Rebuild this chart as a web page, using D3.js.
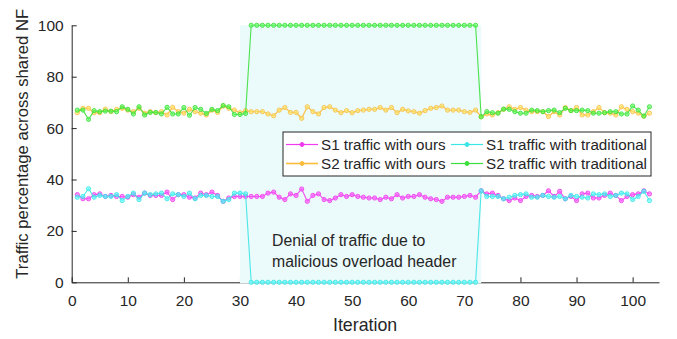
<!DOCTYPE html>
<html>
<head>
<meta charset="utf-8">
<script src="https://cdn.jsdelivr.net/npm/d3@7"></script>
<style>
  body { margin: 0; background: #fff; }
  text { font-family: "Liberation Sans", Arial, sans-serif; fill: #262626; }
</style>
</head>
<body>
<svg id="chart" width="677" height="339"></svg>
<script>
// data (iterations 1..103)
const iterations = d3.range(1, 104);

const s1Ours = [
	34.1, 32.5, 32.5, 34.1, 34.4, 33.4, 33.8, 33.4, 33.4, 33.1, 34.1, 33.1, 34.7, 33.8, 33.8, 33.8, 35.1, 32.2, 34.1, 34.1,
	33.1, 32.8, 34.7, 34.1, 35.1, 33.8, 31.5, 32.8, 33.4, 33.4, 33.4,
	33.4, 33.4, 33.4, 34.7, 35.1, 33.1, 32.2, 34.4, 33.8, 36.3, 31.5, 33.8, 34.4, 32.2, 31.8, 32.8, 34.1, 33.4, 34.1, 33.4,
	33.1, 32.8, 32.8, 32.2, 33.1, 32.5, 34.1, 32.8, 33.4, 33.4, 34.1, 33.1, 32.5, 32.2, 31.5, 33.1, 33.1, 33.1, 33.4, 33.8, 33.1,
	35.6, 34.4, 34.7, 33.8, 32.5, 31.8, 32.8, 31.8, 33.4, 33.8, 33.4, 33.8, 35.6, 33.4, 35.4, 32.5, 33.4, 31.8, 34.4, 34.7,
	32.8, 32.8, 33.8, 34.7, 33.8, 31.8, 33.4, 34.1, 34.4, 35.6, 34.4
];

const s2Ours = [
	66.0, 67.7, 67.7, 66.0, 66.0, 67.4, 66.4, 67.3, 67.7, 67.0, 66.4, 67.7, 65.8, 66.4, 66.0, 66.4, 65.1, 68.1, 66.4, 65.8,
	67.3, 66.4, 65.8, 65.1, 67.0, 66.1, 68.6, 67.7, 67.0, 66.0, 66.8,
	66.4, 66.4, 66.4, 65.5, 64.8, 67.0, 68.0, 66.1, 66.1, 63.8, 68.3, 66.4, 65.5, 68.0, 68.3, 67.0, 66.0, 66.8, 66.0, 66.8,
	67.0, 67.3, 67.3, 68.0, 67.0, 68.0, 66.0, 67.3, 66.7, 66.4, 65.8, 66.8, 67.7, 68.0, 68.6, 67.0, 67.0, 67.0, 66.4, 66.1, 67.0,
	64.4, 65.5, 65.1, 66.0, 67.3, 68.3, 67.3, 68.0, 67.0, 66.4, 66.4, 66.4, 64.5, 66.4, 65.1, 68.0, 66.8, 68.0, 65.1, 65.1,
	66.4, 68.0, 66.0, 65.8, 65.1, 68.3, 67.3, 66.4, 65.8, 64.6, 65.8
];

const s1Trad = [
	33.1, 33.4, 36.4, 33.1, 33.8, 33.4, 33.4, 34.1, 31.8, 33.4, 34.7, 32.2, 34.7, 34.1, 34.4, 34.7, 32.5, 34.4, 34.1, 33.4,
	34.7, 32.5, 33.8, 33.8, 33.4, 33.4, 31.5, 32.2, 34.7, 34.7, 34.4,
	0, 0, 0, 0, 0, 0, 0, 0, 0, 0, 0, 0, 0, 0, 0, 0, 0, 0, 0, 0,
	0, 0, 0, 0, 0, 0, 0, 0, 0, 0, 0, 0, 0, 0, 0, 0, 0, 0, 0, 0, 0,
	35.6, 33.4, 33.4, 33.4, 32.5, 33.1, 33.8, 34.1, 34.4, 33.1, 33.1, 33.8, 33.4, 33.1, 33.4, 32.5, 33.8, 33.4, 33.1, 32.8,
	34.4, 34.1, 34.4, 33.4, 33.8, 34.7, 34.4, 32.2, 33.4, 35.4, 31.8
];

const s2Trad = [
	67.0, 67.0, 63.4, 66.8, 66.4, 66.6, 66.6, 66.4, 68.3, 67.3, 65.5, 68.3, 65.1, 66.1, 66.1, 65.5, 68.1, 65.5, 65.5, 68.0,
	65.0, 68.0, 67.3, 65.7, 67.3, 66.8, 68.8, 68.3, 65.3, 65.3, 65.7,
	100, 100, 100, 100, 100, 100, 100, 100, 100, 100, 100, 100, 100, 100, 100, 100, 100, 100, 100, 100,
	100, 100, 100, 100, 100, 100, 100, 100, 100, 100, 100, 100, 100, 100, 100, 100, 100, 100, 100, 100, 100,
	64.4, 66.4, 66.0, 65.8, 67.4, 67.3, 66.4, 65.8, 65.8, 67.0, 66.8, 66.4, 66.8, 67.0, 66.0, 67.7, 66.8, 66.8, 67.0, 66.8,
	65.8, 65.8, 66.0, 66.4, 66.4, 65.5, 65.5, 68.6, 67.0, 64.7, 68.3
];

const seriesNames = ["S1 traffic with ours", "S2 traffic with ours", "S1 traffic with traditional", "S2 traffic with traditional"];
const seriesValues = [s1Ours, s2Ours, s1Trad, s2Trad];
const seriesColors = ["#f03cf0", "#fbbc3c", "#3ce6e6", "#3ce03c"];

const xTicks = [0, 10, 20, 30, 40, 50, 60, 70, 80, 90, 100];
const yTicks = [0, 20, 40, 60, 80, 100];
const attackWindow = [30, 73];
const noteLines = ["Denial of traffic due to", "malicious overload header"];

const margin = { left: 71.7, right: 18, top: 25.3, bottom: 56.7 };
const width = 677, height = 339;

const svg = d3.select("#chart");

const x = d3.scaleLinear().domain([0, 104.7]).range([margin.left, width - margin.right]);
const y = d3.scaleLinear().domain([0, 100]).range([height - margin.bottom, margin.top]);

// axes (ticks pointing inward)
const xAxis = svg.append("g")
	.attr("transform", `translate(0,${y(0)})`)
	.call(d3.axisBottom(x).tickValues(xTicks).tickSizeInner(-5).tickSizeOuter(0).tickPadding(10));
const yAxis = svg.append("g")
	.attr("transform", `translate(${x(0)},0)`)
	.call(d3.axisLeft(y).tickValues(yTicks).tickSizeInner(-5).tickSizeOuter(0).tickPadding(8));

[xAxis, yAxis].forEach(a => {
	a.select(".domain").attr("stroke", "#262626").attr("stroke-width", 1);
	a.selectAll(".tick line").attr("stroke", "#262626");
	a.selectAll(".tick text").attr("font-size", 15.5).attr("fill", "#262626")
		.attr("font-family", "'Liberation Sans', Arial, sans-serif");
});
xAxis.selectAll(".tick text").attr("dy", "0.9em");

// shaded attack window, drawn over the axis like in the original
svg.append("rect")
	.attr("x", x(attackWindow[0]))
	.attr("y", y(100))
	.attr("width", x(attackWindow[1]) - x(attackWindow[0]))
	.attr("height", y(0) - y(100) + 1)
	.attr("fill", "#ebfafa");

svg.selectAll(".note")
	.data(noteLines)
	.join("text")
	.attr("x", 272)
	.attr("y", (d, i) => 246 + i * 20.5)
	.attr("font-size", 15.8)
	.text(d => d);

// series
const line = d3.line().x((d, i) => x(iterations[i])).y(d => y(d));

seriesValues.forEach((vals, k) => {
	const g = svg.append("g").attr("opacity", k === 1 ? 0.85 : 0.9);
	g.append("path")
		.datum(vals)
		.attr("d", line)
		.attr("fill", "none")
		.attr("stroke", seriesColors[k])
		.attr("stroke-width", k === 1 ? 1.4 : 1.1);
	g.selectAll("circle")
		.data(vals)
		.join("circle")
		.attr("cx", (d, i) => x(iterations[i]))
		.attr("cy", d => y(d))
		.attr("r", 2.1)
		.attr("fill", d3.color(seriesColors[k]).brighter(0.6))
		.attr("fill-opacity", 0.6)
		.attr("stroke", seriesColors[k])
		.attr("stroke-width", 1);
});

// legend
const legend = svg.append("g").attr("transform", "translate(283,132)");
legend.append("rect")
	.attr("x", 0).attr("y", 0)
	.attr("width", 368).attr("height", 44)
	.attr("fill", "#fff")
	.attr("stroke", "#262626")
	.attr("stroke-width", 1);

const legendPos = [[3, 12.5], [3, 31.5], [168, 12.5], [168, 31.5]];
seriesNames.forEach((name, k) => {
	const [lx, ly] = legendPos[k];
	const item = legend.append("g").attr("transform", `translate(${lx},${ly})`);
	item.append("line")
		.attr("x1", 0).attr("x2", 32)
		.attr("y1", 0).attr("y2", 0)
		.attr("stroke", seriesColors[k])
		.attr("stroke-width", k === 1 ? 1.6 : 1.2);
	item.append("circle")
		.attr("cx", 16).attr("cy", 0).attr("r", 2)
		.attr("fill", seriesColors[k])
		.attr("stroke", seriesColors[k]);
	item.append("text")
		.attr("x", 35).attr("y", 0)
		.attr("dy", "0.36em")
		.attr("font-size", 15.2)
		.text(name);
});

// axis labels
svg.append("text")
	.attr("x", x(52.3))
	.attr("y", 331)
	.attr("text-anchor", "middle")
	.attr("font-size", 17.8)
	.text("Iteration");

svg.append("text")
	.attr("transform", `translate(28,${(y(0) + y(100)) / 2 - 10}) rotate(-90)`)
	.attr("text-anchor", "middle")
	.attr("font-size", 16.7)
	.text("Traffic percentage across shared NF");
</script>
</body>
</html>
